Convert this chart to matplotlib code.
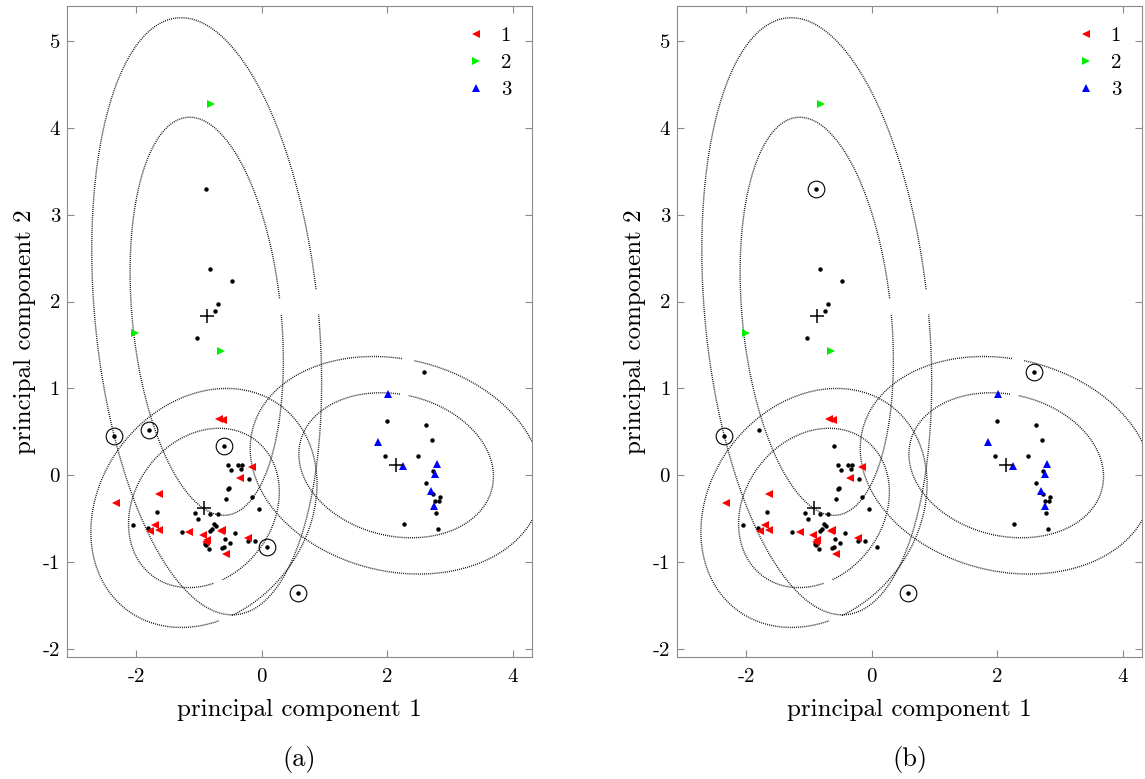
import numpy as np
import matplotlib
matplotlib.use("Agg")
from matplotlib import pyplot as plt

plt.rcParams['font.family'] = 'cmr10'
plt.rcParams['axes.unicode_minus'] = False
plt.rcParams['mathtext.fontset'] = 'cm'

# unlabelled observations (black dots)
pts_x = [-0.885, -0.82, -0.47, -0.69, -0.75, -1.03,
         -2.345, -1.80, -0.605, -0.54, -0.49, -0.38, -0.31, -0.33, -0.207,
         -0.525, -0.54, -0.567, -0.16, -0.04, -1.66, -1.07, -0.82, -0.69,
         -1.02, -2.05, -1.815, -0.76, -0.73, -0.785, -0.82, -1.27, -0.43,
         -0.91, -0.885, -0.58, -0.51, -0.605, -0.63, -0.84, -0.22, -0.105,
         0.09, 0.58,
         2.59, 2.0, 2.61, 2.71, 1.965, 2.48, 2.73, 2.61, 2.73, 2.84, 2.755,
         2.82, 2.78, 2.26, 2.81]
pts_y = [3.30, 2.37, 2.24, 1.97, 1.89, 1.58,
         0.453, 0.527, 0.343, 0.116, 0.06, 0.124, 0.116, 0.078, -0.037,
         -0.14, -0.16, -0.27, -0.25, -0.39, -0.425, -0.436, -0.44, -0.45,
         -0.50, -0.574, -0.61, -0.56, -0.58, -0.62, -0.64, -0.647, -0.666,
         -0.79, -0.80, -0.73, -0.78, -0.83, -0.84, -0.85, -0.76, -0.755,
         -0.83, -1.35,
         1.186, 0.626, 0.58, 0.41, 0.228, 0.223, 0.055, -0.087, -0.22, -0.25,
         -0.30, -0.30, -0.43, -0.555, -0.62]

# labelled observations
c1_x = [-0.685, -0.62, -0.153, -0.344, -1.63, -2.32, -1.70, -1.64, -1.78,
        -0.63, -0.65, -1.15, -0.94, -0.87, -0.885, -0.567, -0.22]
c1_y = [0.654, 0.634, 0.097, -0.025, -0.21, -0.32, -0.566, -0.624, -0.635,
        -0.63, -0.64, -0.647, -0.69, -0.74, -0.77, -0.91, -0.716]
c2_x = [-0.806, -2.01, -0.65]
c2_y = [4.27, 1.635, 1.43]
c3_x = [2.006, 1.85, 2.25, 2.79, 2.765, 2.69, 2.75]
c3_y = [0.94, 0.38, 0.105, 0.13, 0.013, -0.18, -0.355]

# cluster centres and covariances
cen_x = [-0.92, -0.876, 2.14]
cen_y = [-0.375, 1.83, 0.116]
cov_xx = [0.36, 0.372, 0.60]
cov_yy = [0.21, 1.311, 0.174]
cov_xy = [0.055, -0.155, -0.05]
gap_deg = [-75, 5.5, 81]
levels = [2, 3]

# circled outliers per panel (indices into pts)
out_a = [6, 7, 8, 42, 43]
out_b = [6, 0, 43, 44]


def ellipse(i, k):
    S = np.array([[cov_xx[i], cov_xy[i]], [cov_xy[i], cov_yy[i]]])
    L = np.linalg.cholesky(S)
    t = np.linspace(0, 2 * np.pi, 600)
    p = k * (L @ np.vstack([np.cos(t), np.sin(t)]))
    ang = np.degrees(np.arctan2(p[1], p[0]))
    d = (ang - gap_deg[i] + 180) % 360 - 180
    x = p[0] + cen_x[i]
    y = p[1] + cen_y[i]
    x[np.abs(d) < 4] = np.nan
    y[np.abs(d) < 4] = np.nan
    # start path at gap so it doesn't wrap
    j = np.argmax(np.isnan(x))
    return np.roll(x, -j), np.roll(y, -j)


def draw(ax, outl, tag):
    for i in range(3):
        for k in levels:
            ex, ey = ellipse(i, k)
            ax.plot(ex, ey, ls=(0, (0.7, 0.8)), lw=1.0, color='0.05')
    ax.plot(pts_x, pts_y, 'o', color='k', ms=3.2, mew=0)
    ax.plot(np.array(pts_x)[outl], np.array(pts_y)[outl], 'o', mfc='none',
            mec='k', ms=12, mew=0.8)
    ax.plot(c1_x, c1_y, '<', color='#ff0000', ms=5.5, mew=0, label='1')
    ax.plot(c2_x, c2_y, '>', color='#00ee00', ms=5.5, mew=0, label='2')
    ax.plot(c3_x, c3_y, '^', color='#0000ff', ms=5.5, mew=0, label='3')
    ax.plot(cen_x, cen_y, '+', color='k', ms=10, mew=1.1)

    ax.set_xlim(-3.1, 4.3)
    ax.set_ylim(-2.09, 5.4)
    ax.set_xticks([-2, 0, 2, 4])
    ax.set_yticks(range(-2, 6))
    for s in ax.spines.values():
        s.set_color('0.55')
        s.set_linewidth(0.8)
    ax.tick_params(direction='in', top=True, right=True, color='0.55',
                   length=5, labelsize=15)
    ax.tick_params(axis='x', pad=8)
    ax.tick_params(axis='y', pad=5)
    ax.set_xlabel('principal component 1', fontsize=18, labelpad=9)
    ax.set_ylabel('principal component 2', fontsize=18, labelpad=5)
    ax.legend(loc='upper right', frameon=False, fontsize=15,
              handlelength=0.6, handletextpad=0.9, labelspacing=0.4,
              borderaxespad=0.7, borderpad=0.3)
    ax.text(0.5, -0.158, tag, transform=ax.transAxes, ha='center',
            va='center', fontsize=19)


fig = plt.figure(figsize=(11.45, 7.79), dpi=100)
ax1 = fig.add_axes([0.0585, 0.1566, 0.406, 0.8357])
ax2 = fig.add_axes([0.5913, 0.1566, 0.406, 0.8357])
draw(ax1, out_a, '(a)')
draw(ax2, out_b, '(b)')
fig.savefig('out.png', dpi=100)
